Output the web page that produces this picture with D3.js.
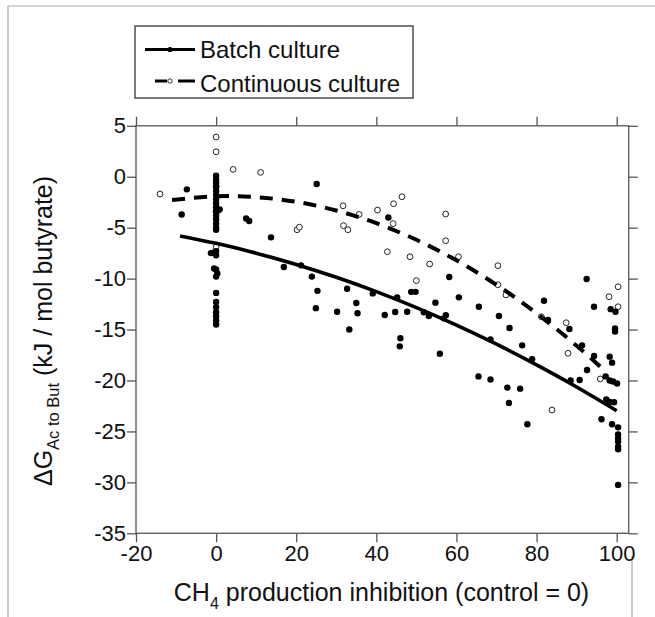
<!DOCTYPE html>
<html>
<head>
<meta charset="utf-8">
<script src="https://cdn.jsdelivr.net/npm/d3@7"></script>
<style>
  body { margin: 0; background: #fff; }
  svg text { font-family: "Liberation Sans", Arial, sans-serif; fill: #111; }
</style>
</head>
<body>
<div class="chart"></div>
<script>
// batch culture (filled dots)
var batchX = [-8.6, -7.3,
  0, 0, 0, 0, 0, 0, 0, 0, 0, 0, 0, 0, 0, 0, 0, 0.9, 0.6,
  -1.3, -0.7, 0, 0, -0.5, 0, 0.3, 0, 0, 0, 0, 0, 0, 0, 0,
  7.5, 8.25, 13.7, 16.9, 21.2, 23.9, 25.1, 25.3, 24.9, 30.2, 32.7, 35, 35.3, 33.25, 39.1, 42.1, 43, 44.7,
  45.2, 46, 45.85, 47.7, 48.7, 49.8, 51.85, 53.1, 54.75, 55.85, 56.85, 57.35, 58.2, 60.6,
  65.6, 65.5, 68.5, 68.5, 70.6, 72.7, 73.1, 73.25, 75.9, 76.4, 77.7, 78.9, 81.85, 82.85, 88.2, 88.5,
  90.75, 91.35, 92.5, 92.6, 94.35, 94.35, 96.2, 97.25, 97.4, 98.25, 98.25, 98.25, 98.5, 98.85, 98.85,
  99.1, 99.35, 99.6, 99.6, 99.7, 100.1, 100.35, 100.35, 100.35, 100.35, 100.35, 100.35, 100.35];
var batchY = [-3.7, -1.24,
  0.1, -0.3, -0.6, -1.0, -1.4, -1.8, -2.2, -2.6, -3.0, -3.4, -3.8, -4.2, -4.6, -5.0, -5.2, -3.2, -3.3,
  -7.5, -7.45, -7.3, -7.7, -9.0, -9.1, -9.5, -9.8, -11.4, -12.3, -12.8, -13.3, -13.7, -14.1, -14.5,
  -4.1, -4.35, -5.95, -8.86, -8.7, -9.8, -0.72, -11.2, -12.9, -13.25, -11.0, -12.4, -13.4, -15.0, -11.45, -13.57, -4.0, -13.28,
  -11.84, -15.86, -16.65, -13.25, -11.3, -11.3, -13.3, -13.67, -12.36, -17.37, -13.9, -13.6, -9.84, -11.84,
  -12.76, -19.6, -15.96, -19.9, -13.67, -20.7, -22.2, -14.85, -20.8, -16.55, -24.3, -17.9, -12.17, -14.06, -14.95, -20.0,
  -19.95, -16.55, -10.04, -18.97, -12.76, -17.6, -23.8, -19.6, -21.85, -17.66, -20.0, -22.1, -13.0, -18.25, -24.3,
  -20.1, -22.14, -14.9, -15.2, -13.25, -20.3, -24.6, -25.3, -25.7, -26.0, -26.5, -26.75, -30.25];

// continuous culture (open circles)
var contX = [-14, 0, 0, 0, 0, 0, 4.25, 11.1, 20.2, 20.8, 31.7, 31.8, 32.9, 35.7, 40.3, 42.75, 44.2, 44.3,
  46.4, 48.4, 50, 53.3, 57.3, 57.3, 60.5, 70.35, 70.35, 72.35, 81.2, 83.85, 87.4, 87.85, 95.9, 98.1, 100.35, 100.35];
var contY = [-1.7, 3.9, 2.45, -0.9, -3.4, -6.9, 0.72, 0.43, -5.2, -4.95, -2.85, -4.8, -5.2, -3.7, -3.27, -7.36, -4.6, -2.65,
  -1.96, -7.85, -10.2, -8.57, -3.66, -6.28, -7.85, -8.73, -10.6, -11.6, -13.74, -22.9, -14.33, -17.33, -19.85, -11.78, -10.8, -12.76];

// fitted trend curves
var batchFitX = [-9, 0, 10, 20, 30, 40, 50, 60, 70, 80, 90, 100];
var batchFitY = [-5.81, -6.54, -7.50, -8.61, -9.87, -11.28, -12.85, -14.57, -16.44, -18.47, -20.64, -22.97];
var contFitX = [-11, 0, 10, 20, 30, 40, 50, 60, 70, 80, 90, 97];
var contFitY = [-2.28, -1.92, -2.00, -2.46, -3.31, -4.56, -6.19, -8.20, -10.61, -13.40, -16.59, -19.04];

var xTicks = [-20, 0, 20, 40, 60, 80, 100];
var yTicks = [5, 0, -5, -10, -15, -20, -25, -30, -35];

var svg = d3.select(".chart").append("svg")
        .attr("width", 655)
        .attr("height", 617);

// faint outer border of the original figure
svg.append("line").attr("x1", 8).attr("x2", 8).attr("y1", 6).attr("y2", 617)
        .attr("stroke", "#aaa").attr("stroke-width", 1.2);
svg.append("line").attr("x1", 8).attr("x2", 655).attr("y1", 6).attr("y2", 6)
        .attr("stroke", "#aaa").attr("stroke-width", 1.2);
svg.append("line").attr("x1", 632).attr("x2", 632).attr("y1", 556).attr("y2", 617)
        .attr("stroke", "#aaa").attr("stroke-width", 1.2);

var x = d3.scaleLinear().domain([-20, 103]).range([136, 628.7]);
var y = d3.scaleLinear().domain([-35, 5]).range([533.3, 125.8]);

function styleAxis(g) {
    g.select(".domain").remove();
    g.selectAll(".tick line").attr("stroke", "#555").attr("stroke-width", 1.3);
    g.selectAll(".tick text").style("font-size", "22px").attr("fill", "#111");
}

svg.append("g")
        .attr("transform", "translate(0," + y(-35) + ")")
        .call(d3.axisBottom(x).tickValues(xTicks).tickSize(9).tickPadding(3)
                .tickFormat(function (d) { return String(d); }))
        .call(styleAxis);
svg.append("g")
        .attr("transform", "translate(0," + y(5) + ")")
        .call(d3.axisTop(x).tickValues(xTicks).tickSize(9).tickFormat(""))
        .call(styleAxis);
svg.append("g")
        .attr("transform", "translate(" + x(-20) + ",0)")
        .call(d3.axisLeft(y).tickValues(yTicks).tickSize(9).tickPadding(1)
                .tickFormat(function (d) { return String(d); }))
        .call(styleAxis);
svg.append("g")
        .attr("transform", "translate(" + x(103) + ",0)")
        .call(d3.axisRight(y).tickValues(yTicks).tickSize(9).tickFormat(""))
        .call(styleAxis);

svg.append("rect")
        .attr("x", x(-20)).attr("y", y(5))
        .attr("width", x(103) - x(-20)).attr("height", y(-35) - y(5))
        .attr("fill", "none").attr("stroke", "#555").attr("stroke-width", 1.3);

// points
var batch = batchX.map(function (v, i) { return [v, batchY[i]]; });
var cont = contX.map(function (v, i) { return [v, contY[i]]; });

svg.selectAll("circle.cont")
        .data(cont)
        .enter()
        .append("circle")
        .attr("class", "cont")
        .attr("cx", function (d) { return x(d[0]); })
        .attr("cy", function (d) { return y(d[1]); })
        .attr("r", 2.9)
        .attr("fill", "#fff")
        .attr("stroke", "#222")
        .attr("stroke-width", 1);

svg.selectAll("circle.batch")
        .data(batch)
        .enter()
        .append("circle")
        .attr("class", "batch")
        .attr("cx", function (d) { return x(d[0]); })
        .attr("cy", function (d) { return y(d[1]); })
        .attr("r", 3.2)
        .attr("fill", "#000");

// fit curves
var line = d3.line()
        .x(function (d) { return x(d[0]); })
        .y(function (d) { return y(d[1]); })
        .curve(d3.curveNatural);

svg.append("path")
        .datum(batchFitX.map(function (v, i) { return [v, batchFitY[i]]; }))
        .attr("d", line)
        .attr("fill", "none")
        .attr("stroke", "#000")
        .attr("stroke-width", 3.6);

svg.append("path")
        .datum(contFitX.map(function (v, i) { return [v, contFitY[i]]; }))
        .attr("d", line)
        .attr("fill", "none")
        .attr("stroke", "#000")
        .attr("stroke-width", 4)
        .attr("stroke-dasharray", "13,9");

// axis titles
var xt = svg.append("text")
        .attr("x", 381.5)
        .attr("y", 601)
        .attr("text-anchor", "middle")
        .style("font-size", "25px");
xt.append("tspan").text("CH");
xt.append("tspan").attr("dy", 8).style("font-size", "16px").text("4");
xt.append("tspan").attr("dy", -8).text(" production inhibition (control = 0)");

var yt = svg.append("text")
        .attr("transform", "translate(52,331) rotate(-90)")
        .attr("text-anchor", "middle")
        .style("font-size", "25px");
yt.append("tspan").text("\u0394G");
yt.append("tspan").attr("dy", 7).style("font-size", "16.5px").text("Ac to But");
yt.append("tspan").attr("dy", -7).text(" (kJ / mol butyrate)");

// legend
svg.append("rect")
        .attr("x", 135).attr("y", 26)
        .attr("width", 278).attr("height", 72)
        .attr("fill", "#fff")
        .attr("stroke", "#333")
        .attr("stroke-width", 1.3);

svg.append("line").attr("x1", 145).attr("x2", 195).attr("y1", 49.5).attr("y2", 49.5)
        .attr("stroke", "#000").attr("stroke-width", 3);
svg.append("circle").attr("cx", 170).attr("cy", 49.5).attr("r", 2.6).attr("fill", "#000");
svg.append("line").attr("x1", 155).attr("x2", 167).attr("y1", 81).attr("y2", 81)
        .attr("stroke", "#000").attr("stroke-width", 3);
svg.append("line").attr("x1", 178).attr("x2", 195).attr("y1", 81).attr("y2", 81)
        .attr("stroke", "#000").attr("stroke-width", 3);
svg.append("circle").attr("cx", 170).attr("cy", 81).attr("r", 2.2)
        .attr("fill", "#fff").attr("stroke", "#222").attr("stroke-width", 0.9);

svg.append("text").attr("x", 200).attr("y", 58).style("font-size", "24px").text("Batch culture");
svg.append("text").attr("x", 200).attr("y", 91.5).style("font-size", "24px").text("Continuous culture");
</script>
</body>
</html>
